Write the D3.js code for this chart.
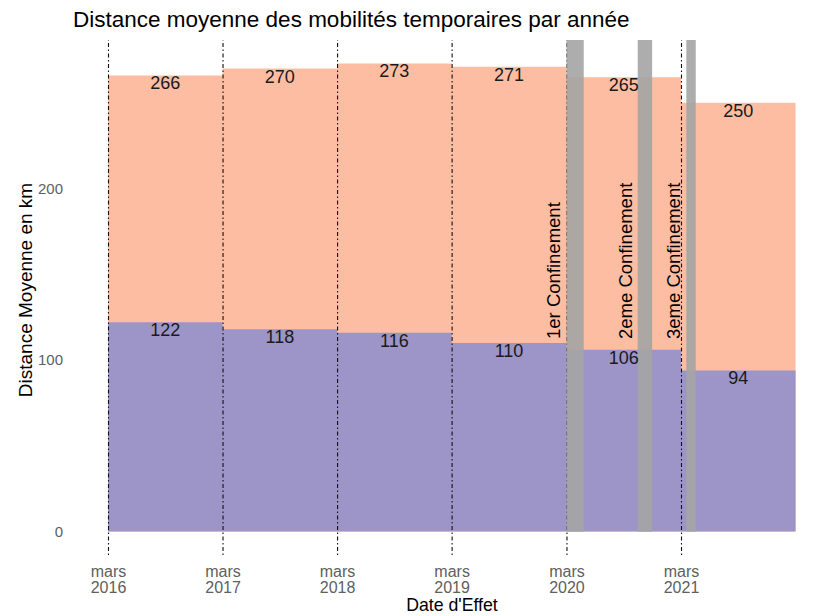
<!DOCTYPE html>
<html>
<head>
<meta charset="utf-8">
<script src="https://cdn.jsdelivr.net/npm/d3@7"></script>
<style>
  body { margin: 0; background: #fff; }
  svg { font-family: "Liberation Sans", Arial, sans-serif; }
</style>
</head>
<body>
<svg id="chart" width="822" height="616"></svg>
<script>
// data
const yearStarts = ["2016-03-17", "2017-03-17", "2018-03-17", "2019-03-17", "2020-03-17", "2021-03-17"];
const periodEnd = "2022-03-17";
const distTotal = [266, 270, 273, 271, 265, 250];
const distLower = [122, 118, 116, 110, 106, 94];
const yTicks = [0, 100, 200];
const confLabels = ["1er Confinement", "2eme Confinement", "3eme Confinement"];
const confStarts = ["2020-03-17", "2020-10-30", "2021-04-03"];
const confEnds = ["2020-05-11", "2020-12-15", "2021-05-03"];

let parse = d3.timeParse("%Y-%m-%d");
let chart = d3.select("#chart");

// panel
let panel = {top: 40, bottom: 555};

// x position scale
let x = d3.scaleTime()
    .domain([parse(yearStarts[0]), parse(yearStarts[5])])
    .range([108, 681]);

// y position scale (ggplot style 5% expansion)
let y = d3.scaleLinear()
    .domain([-13.65, 286.65])
    .range([panel.bottom, panel.top]);

function steps(values){
    let pts = yearStarts.map(function(d, i){ return {date: parse(d), v: values[i]}; });
    pts.push({date: parse(periodEnd), v: values[values.length - 1]});
    return pts;
}

let area = d3.area()
    .curve(d3.curveStepAfter)
    .x(function(d){ return x(d.date); })
    .y0(y(0))
    .y1(function(d){ return y(d.v); });

chart.append("path")
    .datum(steps(distTotal))
    .attr("d", area)
    .attr("fill", "#FDBDA2");

chart.append("path")
    .datum(steps(distLower))
    .attr("d", area)
    .attr("fill", "#9D94C8");

// x axis : dash-dot lines at each March
let xAxis = chart.append("g")
    .attr("transform", "translate(0," + panel.bottom + ")")
    .call(d3.axisBottom(x)
        .tickValues(yearStarts.map(parse))
        .tickSize(-(panel.bottom - panel.top))
        .tickFormat(""));
xAxis.select(".domain").remove();
xAxis.selectAll(".tick line")
    .attr("stroke", "#111")
    .attr("stroke-width", 1.1)
    .attr("stroke-dasharray", "1.5,2.5,4,2.5");
xAxis.selectAll(".tick text").each(function(d){
    let t = d3.select(this).attr("y", 0).attr("dy", null)
        .attr("fill", "#606060").attr("font-size", "16px");
    t.append("tspan").attr("x", 0).attr("y", 22).text("mars");
    t.append("tspan").attr("x", 0).attr("y", 38).text(d3.timeFormat("%Y")(d));
});

// y axis
let yAxis = chart.append("g")
    .attr("transform", "translate(66,0)")
    .call(d3.axisLeft(y).tickValues(yTicks).tickSize(0).tickPadding(3));
yAxis.select(".domain").remove();
yAxis.selectAll(".tick text")
    .attr("fill", "#606060")
    .attr("font-size", "15px")
    .attr("font-family", "Liberation Sans, Arial, sans-serif");

// confinement periods
chart.selectAll(".conf")
    .data(confStarts).enter()
    .append("rect")
        .attr("class", "conf")
        .attr("x", function(d){ return x(parse(d)); })
        .attr("width", function(d, i){ return x(parse(confEnds[i])) - x(parse(d)); })
        .attr("y", panel.top)
        .attr("height", y(0) - panel.top)
        .attr("fill", "#A4A4A4")
        .attr("fill-opacity", 0.9);

chart.selectAll(".conflabel")
    .data(confLabels).enter()
    .append("text")
        .attr("class", "conflabel")
        .attr("transform", function(d, i){
            return "translate(" + (x(parse(confStarts[i])) - 12.5) + "," + 339 + ") rotate(-90)";
        })
        .attr("dominant-baseline", "central")
        .attr("font-size", "18.5px")
        .attr("fill", "#000")
        .text(function(d){ return d; });

// value labels
function midX(i){
    let a = parse(yearStarts[i]);
    let b = i < yearStarts.length - 1 ? parse(yearStarts[i + 1]) : parse(periodEnd);
    return (x(a) + x(b)) / 2;
}
[distTotal, distLower].forEach(function(vals){
    chart.append("g").selectAll("text")
        .data(vals).enter()
        .append("text")
            .attr("x", function(d, i){ return midX(i); })
            .attr("y", function(d){ return y(d) + 8; })
            .attr("text-anchor", "middle")
            .attr("dominant-baseline", "central")
            .attr("font-size", "18px")
            .attr("fill", "#1a1a1a")
            .text(function(d){ return d; });
});

// titles
chart.append("text")
    .attr("x", 73)
    .attr("y", 27)
    .attr("font-size", "22.5px")
    .attr("fill", "#000")
    .text("Distance moyenne des mobilités temporaires par année");

chart.append("text")
    .attr("transform", "translate(25,290) rotate(-90)")
    .attr("text-anchor", "middle")
    .attr("dominant-baseline", "central")
    .attr("font-size", "19px")
    .attr("fill", "#000")
    .text("Distance Moyenne en km");

chart.append("text")
    .attr("x", 452)
    .attr("y", 611)
    .attr("text-anchor", "middle")
    .attr("font-size", "17.7px")
    .attr("fill", "#000")
    .text("Date d'Effet");
</script>
</body>
</html>
